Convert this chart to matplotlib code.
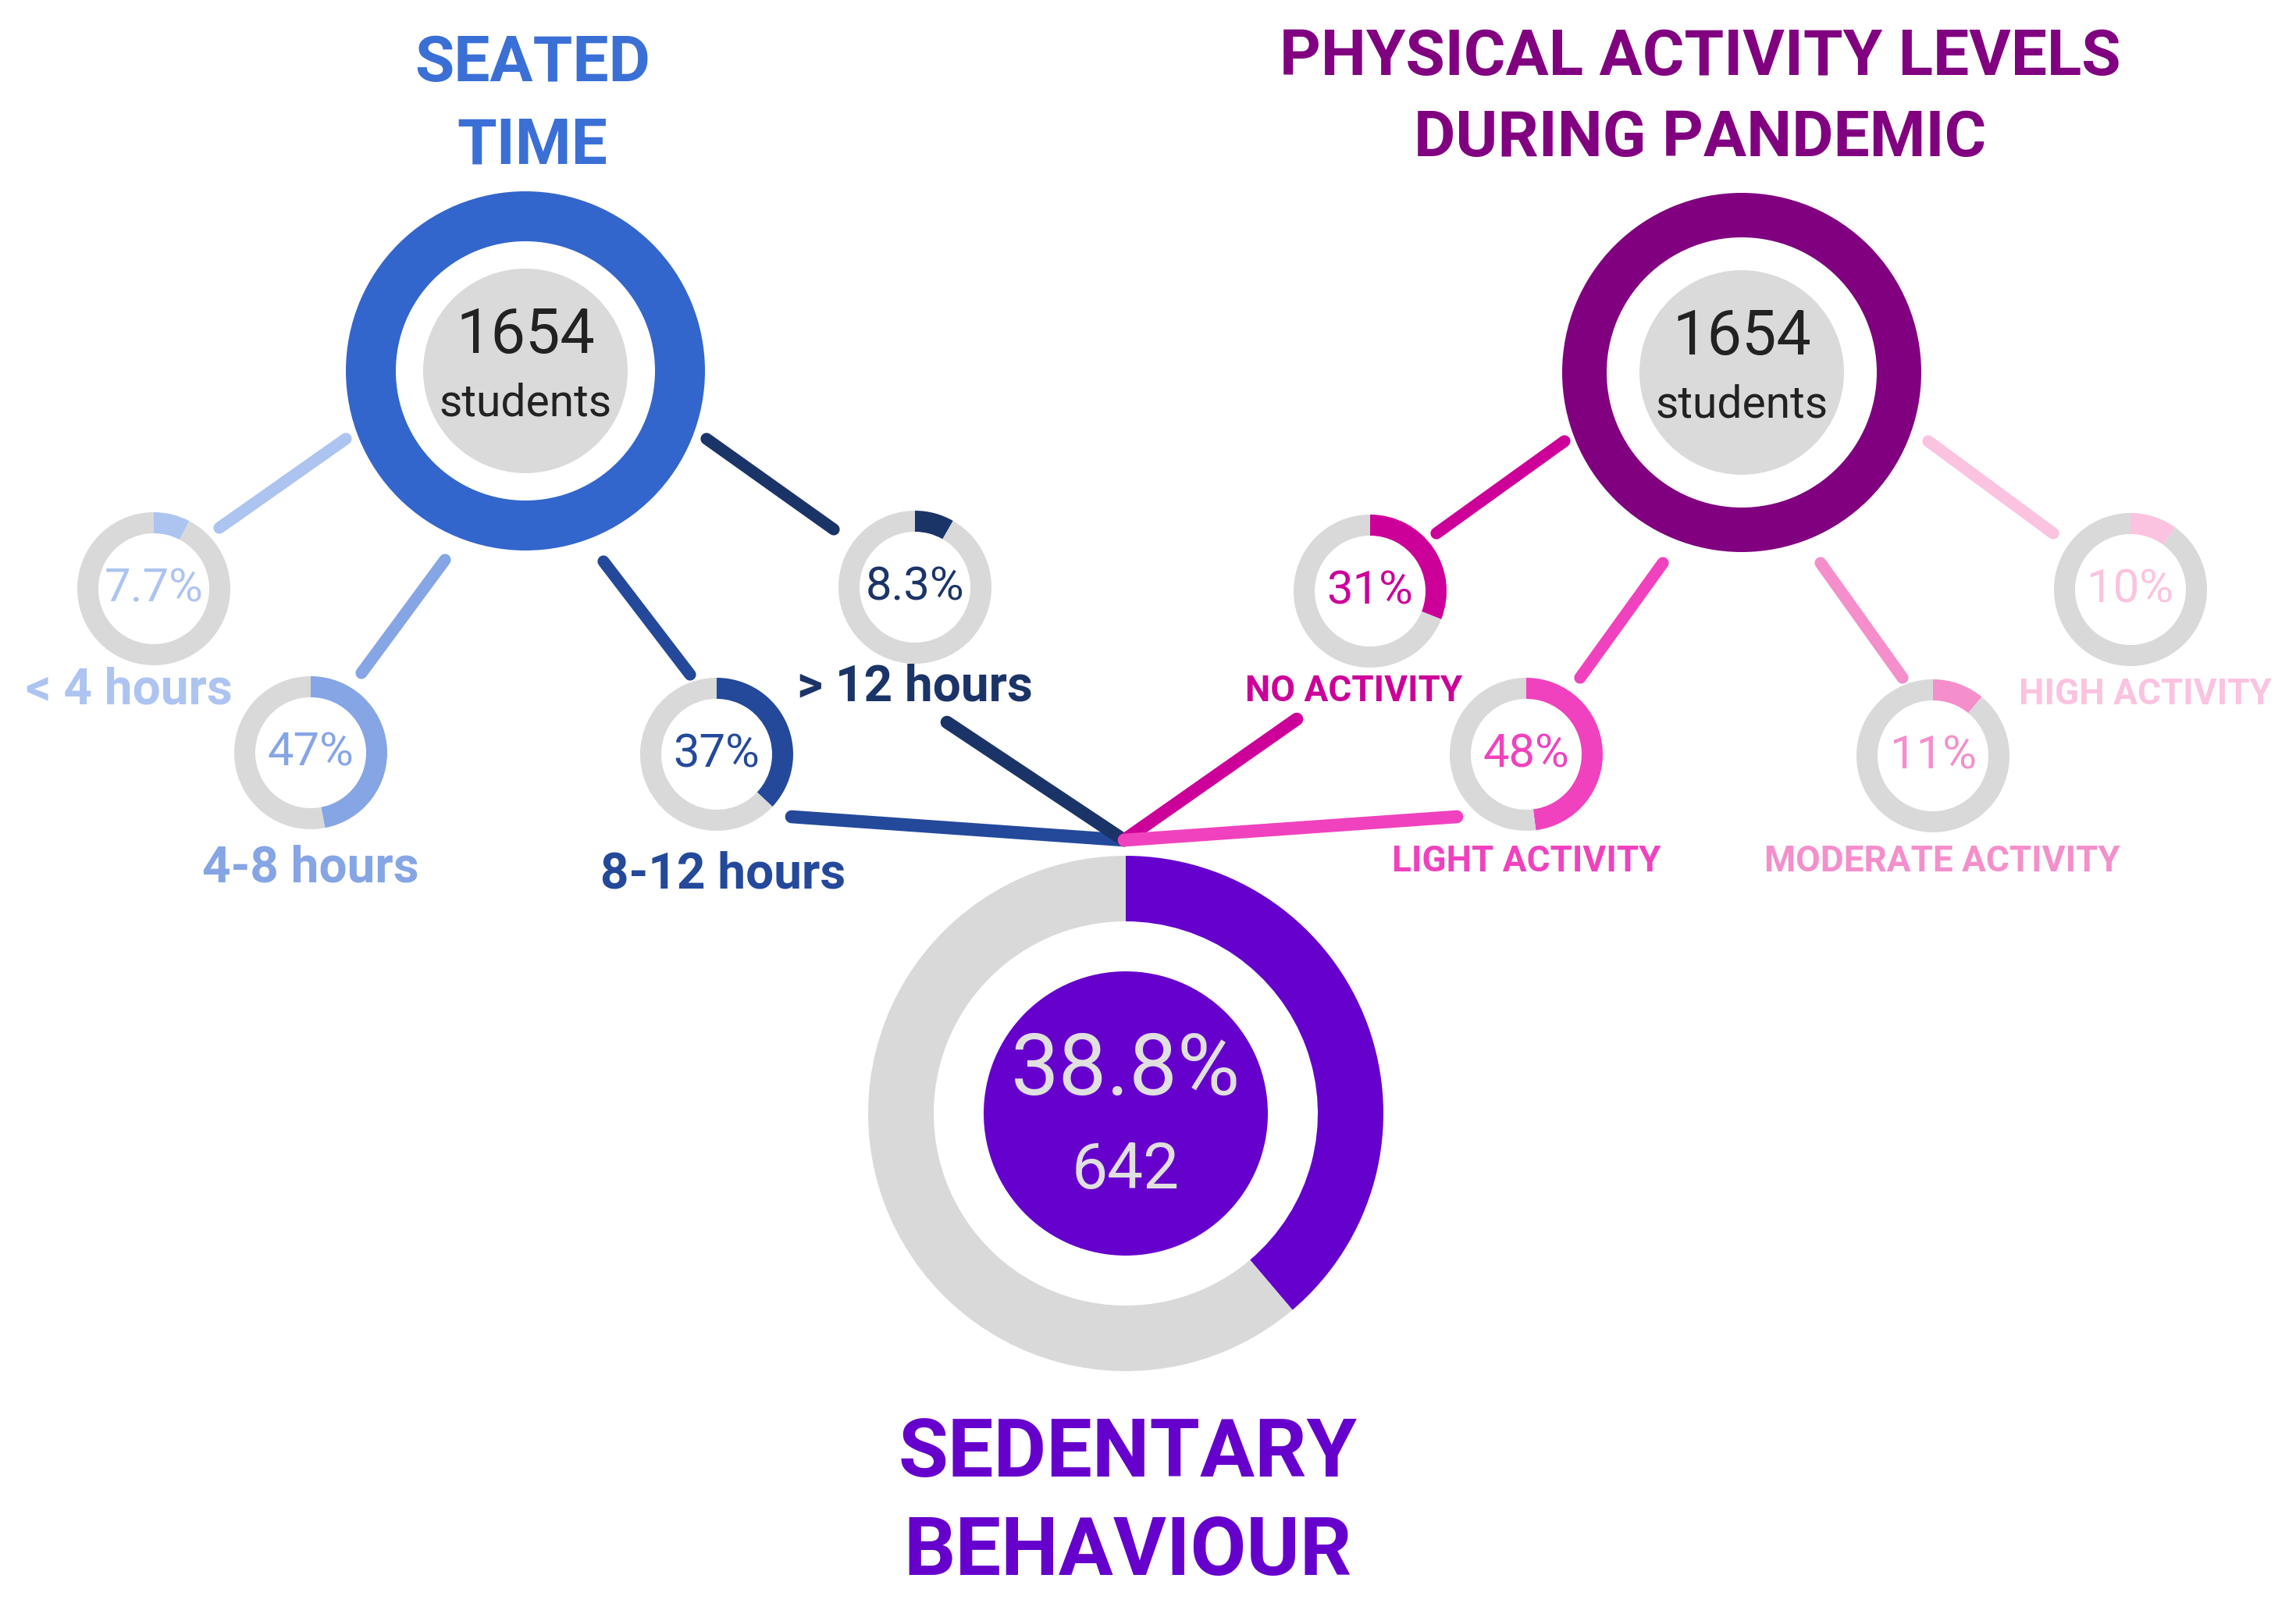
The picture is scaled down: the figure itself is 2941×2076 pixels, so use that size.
import matplotlib
matplotlib.use("Agg")
import matplotlib.pyplot as plt
from matplotlib.patches import Circle

W, H = 2941, 2076

# ---- data ----
total_students = 1654
seated_labels = ["< 4 hours", "4-8 hours", "8-12 hours", "> 12 hours"]
seated_pct = [7.7, 47, 37, 8.3]
activity_labels = ["NO ACTIVITY", "LIGHT ACTIVITY", "MODERATE ACTIVITY", "HIGH ACTIVITY"]
activity_pct = [31, 48, 11, 10]
sedentary_pct = 38.8
sedentary_n = 642

# ---- styles ----
GRAY = "#d9d9d9"
SEATED_COLOR = "#3366cc"
ACTIVITY_COLOR = "#800080"
SEDENTARY_COLOR = "#6600cc"
seated_colors = ["#adc4f0", "#86a5e5", "#24499b", "#1b3468"]
activity_colors = ["#cc0099", "#f042be", "#f48fcb", "#fbc3e0"]

# ---- layout (pixel coords, y from top) ----
seated_center = (673, 475)
activity_center = (2231, 477)
sed_center = (1442, 1426)
seated_small = [(197, 754), (398, 964), (918, 966), (1172, 752)]
seated_label_pos = [(165, 884), (398, 1112), (926, 1120), (1172, 880)]
activity_small = [(1755, 757), (1955, 966), (2476, 968), (2729, 755)]
activity_label_pos = [(1734, 885), (1955, 1103), (2488, 1103), (2748, 889)]
seated_links = [((443, 562), (281, 676)), ((570, 717), (463, 862)),
                ((773, 719), (884, 864)), ((905, 562), (1068, 678))]
activity_links = [((2004, 565), (1840, 683)), ((2130, 721), (2024, 868)),
                  ((2332, 721), (2437, 868)), ((2470, 565), (2630, 683))]
hub = (1440, 1076)
hub_links = [((1014, 1046), seated_colors[2]), ((1213, 925), seated_colors[3]),
             ((1661, 921), activity_colors[0]), ((1866, 1046), activity_colors[1])]


def P(x, y):
    return x, H - y


fig = plt.figure(figsize=(W / 100, H / 100), dpi=100)
ax = fig.add_axes([0, 0, 1, 1])

TF = ["Roboto", "DejaVu Sans"]
NF = ["Liberation Sans Narrow", "Roboto", "DejaVu Sans"]


def ring(center, pct, color, r, w):
    ax.pie([pct, 100 - pct], colors=[color, GRAY], radius=r, center=P(*center),
           startangle=90, counterclock=False,
           wedgeprops=dict(width=w, linewidth=0, edgecolor="none"))


# connector lines
for (a, b), c in zip(seated_links, seated_colors):
    ax.plot([P(*a)[0], P(*b)[0]], [P(*a)[1], P(*b)[1]], color=c, lw=11,
            solid_capstyle="round", zorder=1)
for (a, b), c in zip(activity_links, activity_colors):
    ax.plot([P(*a)[0], P(*b)[0]], [P(*a)[1], P(*b)[1]], color=c, lw=11,
            solid_capstyle="round", zorder=1)
for a, c in hub_links:
    ax.plot([P(*a)[0], P(*hub)[0]], [P(*a)[1], P(*hub)[1]], color=c, lw=12,
            solid_capstyle="round", zorder=1)

# big top rings
for center, c, w in [(seated_center, SEATED_COLOR, 64), (activity_center, ACTIVITY_COLOR, 57)]:
    ax.pie([100], colors=[c], radius=230, center=P(*center),
           wedgeprops=dict(width=w, linewidth=0, edgecolor="none"))
    ax.add_patch(Circle(P(*center), 131, color="#dadada", lw=0, zorder=2))
    ax.text(*P(center[0], center[1] - 45), f"{total_students}", ha="center", va="center",
            fontsize=57, family=NF, color="#222222", zorder=3)
    ax.text(*P(center[0], center[1] + 42), "students", ha="center", va="center",
            fontsize=41, family=TF, color="#222222", zorder=3)

# small rings
for pos, v, c, lab, lp in zip(seated_small, seated_pct, seated_colors, seated_labels, seated_label_pos):
    ring(pos, v, c, 98, 27)
    ax.text(*P(*pos), f"{v:g}%", ha="center", va="center", fontsize=43, family=TF, color=c)
    ax.text(*P(*lp), lab, ha="center", va="center", fontsize=46, family=TF,
            fontweight="bold", color=c)

for pos, v, c, lab, lp in zip(activity_small, activity_pct, activity_colors, activity_labels, activity_label_pos):
    ring(pos, v, c, 98, 27)
    ax.text(*P(*pos), f"{v:g}%", ha="center", va="center", fontsize=43, family=TF, color=c)
    ax.text(*P(*lp), lab, ha="center", va="center", fontsize=33, family=TF,
            fontweight="bold", color=c)

# sedentary ring
ring(sed_center, sedentary_pct, SEDENTARY_COLOR, 330, 84)
ax.add_patch(Circle(P(*sed_center), 182, color=SEDENTARY_COLOR, lw=0, zorder=2))
ax.text(*P(sed_center[0], sed_center[1] - 54), f"{sedentary_pct}%", ha="center", va="center",
        fontsize=79, family=TF, color="#e0e0e0", zorder=3)
ax.text(*P(sed_center[0], sed_center[1] + 74), f"{sedentary_n}", ha="center", va="center",
        fontsize=59, family=TF, color="#e0e0e0", zorder=3)

# titles
ax.text(*P(682, 82), "SEATED", ha="center", va="center", fontsize=59, family=TF,
        fontweight="bold", color="#3a6fd6")
ax.text(*P(682, 187), "TIME", ha="center", va="center", fontsize=59, family=TF,
        fontweight="bold", color="#3a6fd6")
ax.text(*P(2178, 74), "PHYSICAL ACTIVITY LEVELS", ha="center", va="center", fontsize=59,
        family=TF, fontweight="bold", color=ACTIVITY_COLOR)
ax.text(*P(2178, 178), "DURING PANDEMIC", ha="center", va="center", fontsize=59,
        family=TF, fontweight="bold", color=ACTIVITY_COLOR)
ax.text(*P(1445, 1863), "SEDENTARY", ha="center", va="center", fontsize=75, family=TF,
        fontweight="bold", color=SEDENTARY_COLOR)
ax.text(*P(1445, 1988), "BEHAVIOUR", ha="center", va="center", fontsize=75, family=TF,
        fontweight="bold", color=SEDENTARY_COLOR)

ax.set_xlim(0, W)
ax.set_ylim(0, H)
ax.set_aspect("equal")
ax.axis("off")
fig.savefig("out.png", dpi=100, facecolor="white")
